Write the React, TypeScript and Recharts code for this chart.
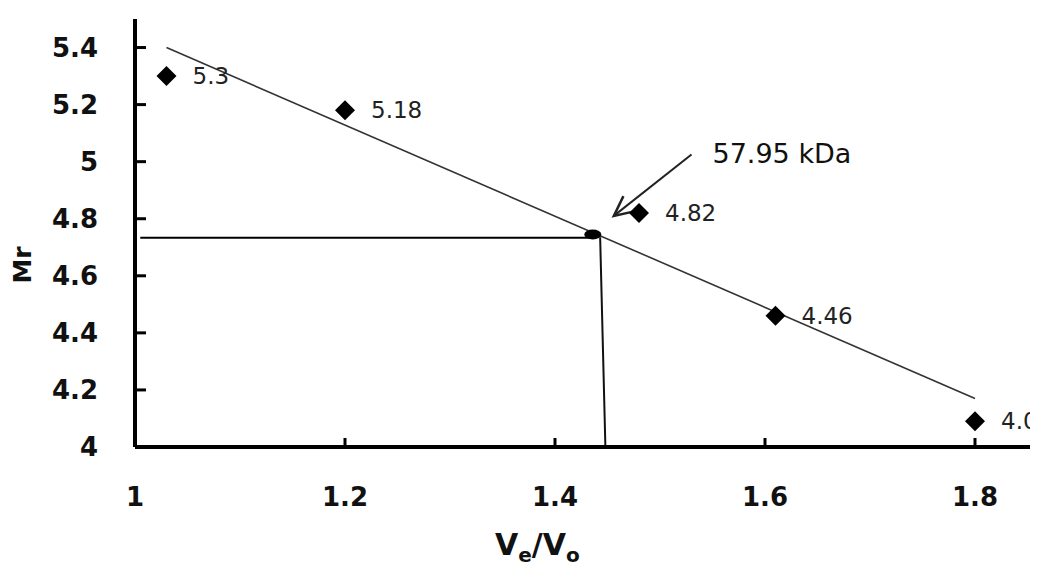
import { ComposedChart, Scatter, XAxis, YAxis, ReferenceLine, ReferenceDot } from "recharts";

// elution ratio Ve/Vo and log Mr of the standards
const veVo = [1.03, 1.2, 1.48, 1.61, 1.8];
const mr = [5.3, 5.18, 4.82, 4.46, 4.09];
const pointLabels = ["5.3", "5.18", "4.82", "4.46", "4.09"];

const xTicks = [1, 1.2, 1.4, 1.6, 1.8];
const yTicks = [4, 4.2, 4.4, 4.6, 4.8, 5, 5.2, 5.4];

// fitted line ends
const trendX = [1.03, 1.8];
const trendY = [5.4, 4.17];

// unknown sample: Mr read-off lines and marker
const unknownX = [1.005, 1.438];
const unknownY = 4.733;
const dropX = [1.443, 1.448];
const dropY = [4.735, 4];
const unknownDot = { x: 1.436, y: 4.745 };
const arrowFrom = { x: 1.53, y: 5.025 };
const arrowTo = { x: 1.456, y: 4.81 };
const annotation = "57.95 kDa";

const data = veVo.map((x, i) => ({ x, mr: mr[i], label: pointLabels[i] }));

const tickFont = { fontFamily: "DejaVu Sans", fontWeight: 700, fontSize: 26, fill: "#111" };

function Diamond(props: any) {
  const { cx, cy, payload } = props;
  const r = 10;
  return (
    <g>
      <polygon points={`${cx},${cy - r} ${cx + r},${cy} ${cx},${cy + r} ${cx - r},${cy}`} fill="#000" />
      <text x={cx + 26} y={cy + 8} fontFamily="DejaVu Sans" fontSize={23} fill="#222">
        {payload.label}
      </text>
    </g>
  );
}

function Arrow(props: any) {
  const { x1, y1, x2, y2 } = props;
  const dx = x1 - x2;
  const dy = y1 - y2;
  const len = Math.sqrt(dx * dx + dy * dy);
  const ux = dx / len;
  const uy = dy / len;
  const a = 0.45;
  const w = 22;
  const ax = x2 + w * (ux * Math.cos(a) - uy * Math.sin(a));
  const ay = y2 + w * (ux * Math.sin(a) + uy * Math.cos(a));
  const bx = x2 + w * (ux * Math.cos(-a) - uy * Math.sin(-a));
  const by = y2 + w * (ux * Math.sin(-a) + uy * Math.cos(-a));
  return (
    <g>
      <line x1={x1} y1={y1} x2={x2} y2={y2} stroke="#222" strokeWidth={2} />
      <polyline points={`${ax},${ay} ${x2},${y2} ${bx},${by}`} fill="none" stroke="#222" strokeWidth={2.5} />
      <text x={x1 + 21} y={y1 + 8} fontFamily="DejaVu Sans" fontSize={27} fill="#111">
        {annotation}
      </text>
    </g>
  );
}

export default function App() {
  return (
    <div style={{ margin: -8, width: 1038, height: 576, overflow: "hidden", background: "#fff" }}>
      <ComposedChart width={1038} height={576} data={data} margin={{ top: 19, right: 0, bottom: 0, left: 0 }}>
        <XAxis
          dataKey="x"
          type="number"
          domain={[1, 1.86]}
          allowDataOverflow
          ticks={xTicks}
          height={129}
          tickSize={-9}
          tickMargin={50}
          axisLine={{ stroke: "#000", strokeWidth: 4 }}
          tickLine={{ stroke: "#000", strokeWidth: 3 }}
          tick={tickFont}
          label={{
            content: () => (
              <text x={495} y={555} fontFamily="DejaVu Sans" fontWeight={700} fontSize={30} fill="#111">
                <tspan>V</tspan>
                <tspan fontSize={20} dy={7}>e</tspan>
                <tspan dy={-7}>/V</tspan>
                <tspan fontSize={20} dy={7}>o</tspan>
              </text>
            ),
          }}
        />
        <YAxis
          type="number"
          domain={[4, 5.5]}
          ticks={yTicks}
          width={135}
          tickSize={-11}
          tickMargin={48}
          axisLine={{ stroke: "#000", strokeWidth: 4 }}
          tickLine={{ stroke: "#000", strokeWidth: 3 }}
          tick={tickFont}
          label={{
            content: () => (
              <text
                x={22}
                y={265}
                transform="rotate(-90 22 265)"
                textAnchor="middle"
                dominantBaseline="central"
                fontFamily="DejaVu Sans"
                fontWeight={700}
                fontSize={25}
                fill="#111"
              >
                Mr
              </text>
            ),
          }}
        />
        <ReferenceLine
          segment={[
            { x: trendX[0], y: trendY[0] },
            { x: trendX[1], y: trendY[1] },
          ]}
          stroke="#333"
          strokeWidth={1.6}
        />
        <ReferenceLine
          segment={[
            { x: unknownX[0], y: unknownY },
            { x: unknownX[1], y: unknownY },
          ]}
          stroke="#000"
          strokeWidth={2}
        />
        <ReferenceLine
          segment={[
            { x: dropX[0], y: dropY[0] },
            { x: dropX[1], y: dropY[1] },
          ]}
          stroke="#111"
          strokeWidth={2}
        />
        <ReferenceLine
          segment={[
            { x: arrowFrom.x, y: arrowFrom.y },
            { x: arrowTo.x, y: arrowTo.y },
          ]}
          shape={Arrow}
        />
        <ReferenceDot
          x={unknownDot.x}
          y={unknownDot.y}
          shape={(p: any) => <ellipse cx={p.cx} cy={p.cy} rx={8.5} ry={5} fill="#000" />}
        />
        <Scatter dataKey="mr" shape={Diamond} isAnimationActive={false} />
      </ComposedChart>
    </div>
  );
}
